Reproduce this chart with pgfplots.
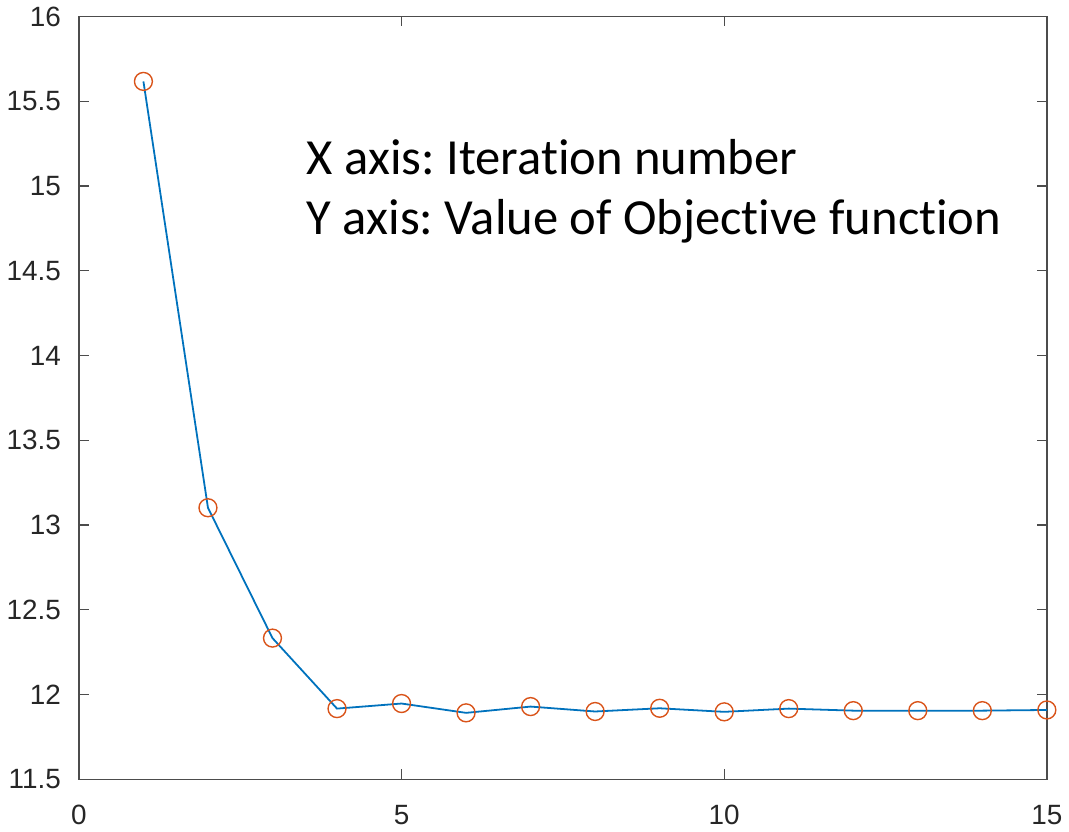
\documentclass[border=0pt]{standalone}
\usepackage{pgfplots}
\pgfplotsset{compat=1.18}
\usepackage{fontspec}
\setmainfont{Liberation Sans}
\newfontfamily\calib[Ligatures=NoCommon]{Carlito}
\definecolor{mblue}{rgb}{0,0.447,0.741}
\definecolor{morange}{rgb}{0.85,0.325,0.098}
\definecolor{axgray}{rgb}{0.3,0.3,0.3}
\begin{document}
\frenchspacing
\begin{tikzpicture}
\begin{axis}[
  width=486pt, height=383pt,
  scale only axis,
  xmin=0, xmax=15, ymin=11.5, ymax=16,
  xtick={0,5,10,15},
  ytick={11.5,12,12.5,13,13.5,14,14.5,15,15.5,16},
  yticklabel style={/pgf/number format/fixed, /pgf/number format/precision=1, xshift=-5.5pt},
  xticklabel style={yshift=-9.5pt},
  /pgf/number format/assume math mode=true,
  tick label style={font=\fontsize{14}{16}\selectfont, text=black!85},
  tick align=inside,
  major tick length=5pt,
  tick style={axgray, line width=0.6pt},
  axis line style={axgray, line width=0.7pt},
  xtick pos=both, ytick pos=both,
  xticklabel pos=lower, yticklabel pos=left,
  clip=false,
]
\addplot[mblue, line width=0.9pt, mark=o, mark size=4.5pt,
  mark options={morange, line width=0.7pt}] coordinates {
  (1,15.617) (2,13.102) (3,12.333) (4,11.917) (5,11.947)
  (6,11.892) (7,11.929) (8,11.900) (9,11.919) (10,11.898)
  (11,11.917) (12,11.905) (13,11.905) (14,11.905) (15,11.909)
};
\node[anchor=base west, font=\calib\fontsize{25.4}{30}\selectfont, inner sep=0pt]
  at (rel axis cs:0.235,0.793) {X axis: Iteration number};
\node[anchor=base west, font=\calib\fontsize{25.4}{30}\selectfont, inner sep=0pt]
  at (rel axis cs:0.235,0.714) {Y axis: Value of Objective function};
\end{axis}
\end{tikzpicture}
\end{document}
